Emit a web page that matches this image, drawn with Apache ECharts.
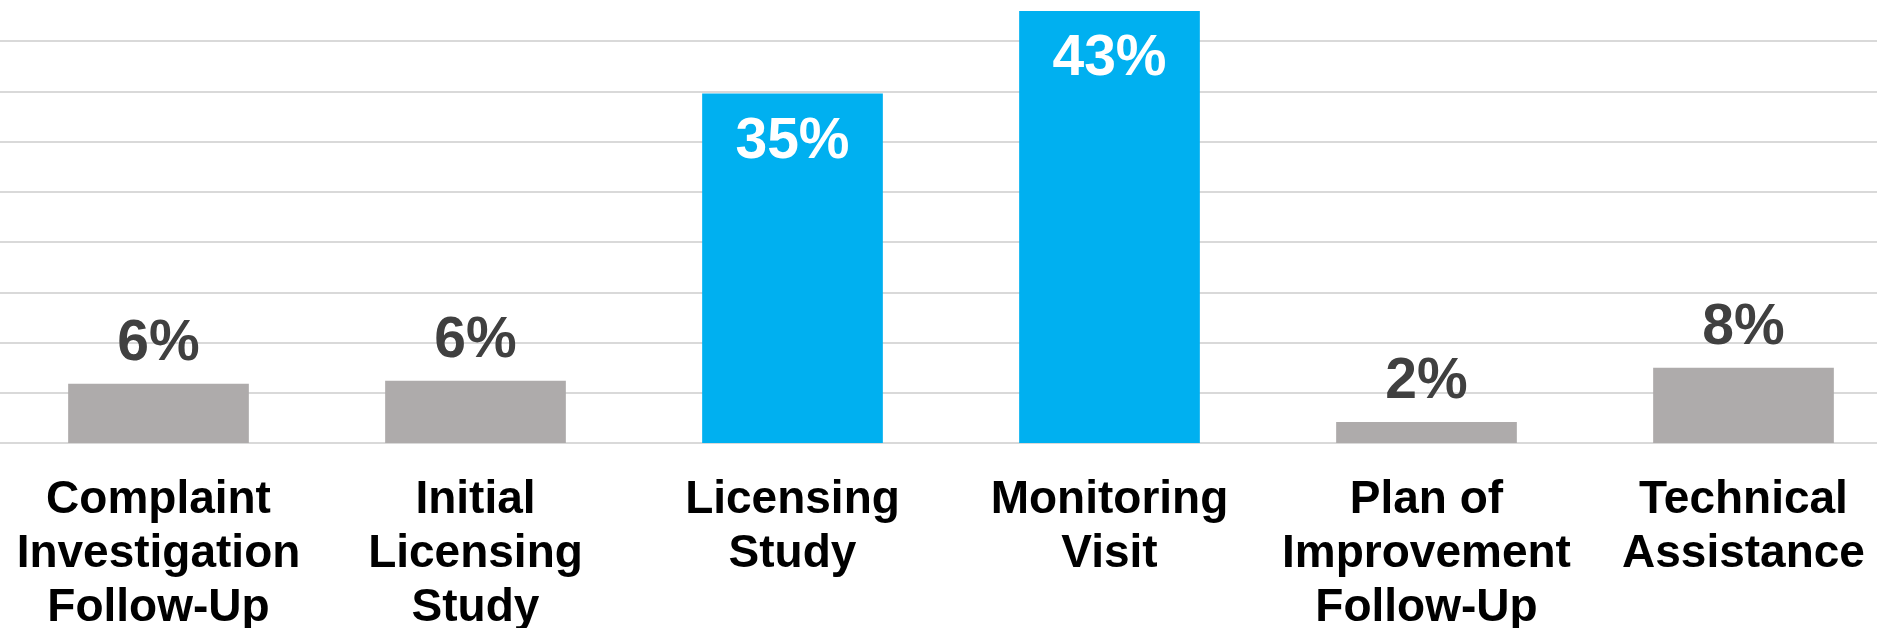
<!DOCTYPE html>
<html>
<head>
<meta charset="utf-8">
<script src="https://cdn.jsdelivr.net/npm/echarts@6/dist/echarts.min.js"></script>
<style>
  html, body { margin: 0; padding: 0; background: #fff; overflow: hidden; width: 1877px; height: 628px; }
  /* the original plot runs a little past the right and top edges */
  #chart { position: absolute; left: 0; top: -9px; width: 1902px; height: 637px; }
</style>
</head>
<body>
<div id="chart"></div>
<script>
// categories (line breaks as in the picture)
const categories = [
  'Complaint\nInvestigation\nFollow-Up',
  'Initial\nLicensing\nStudy',
  'Licensing\nStudy',
  'Monitoring\nVisit',
  'Plan of\nImprovement\nFollow-Up',
  'Technical\nAssistance'
];
// percent of visits
const values = [5.9, 6.2, 34.8, 43.0, 2.1, 7.5];
// shown labels
const labels = ['6%', '6%', '35%', '43%', '2%', '8%'];
// which bars are highlighted in blue
const highlighted = [2, 3];

const gray = '#AEABAB';
const blue = '#00B0F0';

let myChart = echarts.init(document.getElementById('chart'), null, { width: 1902, height: 637 });

const seriesData = values.map(function (v, i) {
  const hi = highlighted.indexOf(i) >= 0;
  return {
    value: v,
    itemStyle: { color: hi ? blue : gray },
    label: hi
      ? { position: 'insideTop', distance: 20, color: '#fff' }
      : { position: 'top', distance: 11, color: '#404040' }
  };
});

myChart.setOption({
  animation: false,
  grid: {
    left: 0,
    right: 0,
    top: 0,
    bottom: 185,
    containLabel: false,
    outerBoundsMode: 'none' // v6 would otherwise shrink the plot to fit the labels
  },
  xAxis: {
    type: 'category',
    data: categories,
    axisTick: { show: false },
    axisLine: { show: true, lineStyle: { color: '#D9D9D9', width: 2 } },
    axisLabel: {
      interval: 0,
      margin: 30,
      color: '#000',
      fontFamily: 'Liberation Sans, Arial, sans-serif',
      fontWeight: 'bold',
      fontSize: 46,
      lineHeight: 54
    }
  },
  yAxis: {
    type: 'value',
    min: 0,
    max: 45,
    interval: 5,
    axisLabel: { show: false },
    axisLine: { show: false },
    axisTick: { show: false },
    splitLine: { lineStyle: { color: '#D9D9D9', width: 2 } }
  },
  series: [{
    type: 'bar',
    data: seriesData,
    barCategoryGap: '43%',
    label: {
      show: true,
      fontFamily: 'Liberation Sans, Arial, sans-serif',
      fontWeight: 'bold',
      fontSize: 57,
      formatter: function (p) { return labels[p.dataIndex]; }
    }
  }]
});

window.addEventListener('resize', function () {
  myChart.resize();
});
</script>
</body>
</html>
